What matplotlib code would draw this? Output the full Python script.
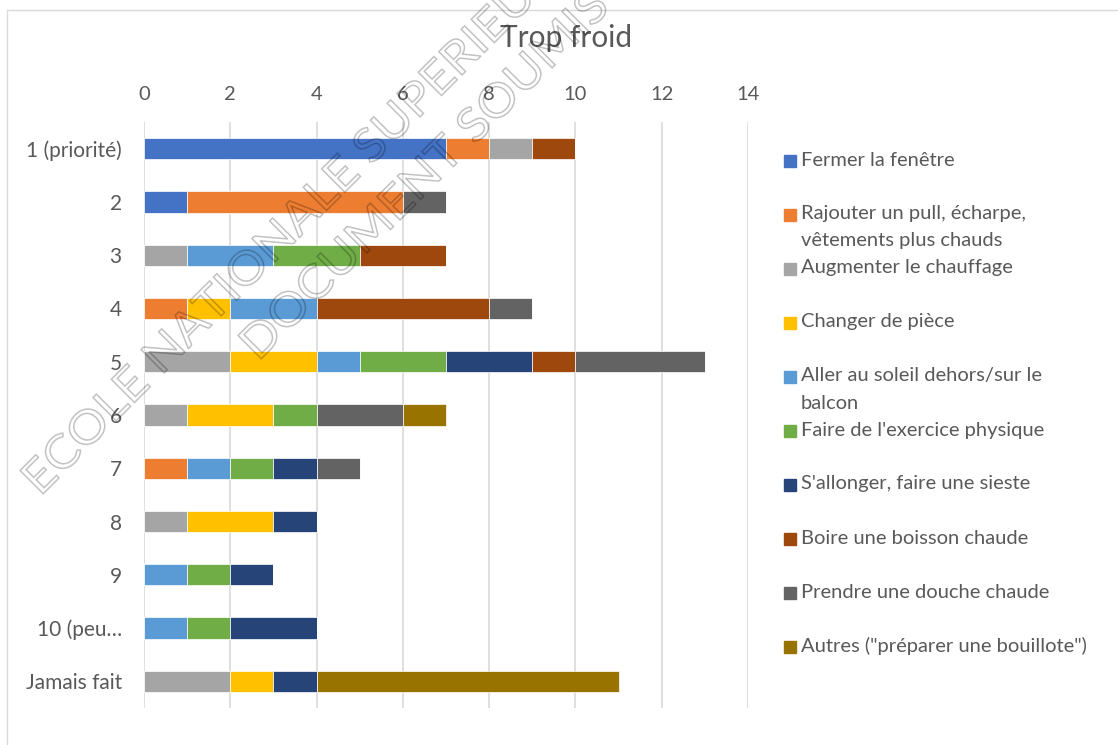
#! /usr/bin/env python
#
# Stacked horizontal bars: what people do first when they feel too cold,
# by priority rank (1 = first thing tried, "Jamais fait" = never done).
#

"""Trop froid: actions by priority rank"""

# Installed packages
from matplotlib import pyplot as plt
from matplotlib.font_manager import FontProperties
from matplotlib.patches import PathPatch, Rectangle
from matplotlib.textpath import TextPath
from matplotlib.transforms import Affine2D
import numpy as np

# Figure size in pixels (saved at 100 dpi)
FIG_W, FIG_H = 1118, 745
FONT = "Lato"
TEXT_COLOR = "#595959"

# Rank labels, top to bottom
categories = ["1 (priorité)", "2", "3", "4", "5", "6", "7", "8", "9",
              "10 (peu…", "Jamais fait"]

# Counts per rank for each action
fermer = [7, 1, 0, 0, 0, 0, 0, 0, 0, 0, 0]
pull = [1, 5, 0, 1, 0, 0, 1, 0, 0, 0, 0]
chauffage = [1, 0, 1, 0, 2, 1, 0, 1, 0, 0, 2]
piece = [0, 0, 0, 1, 2, 2, 0, 2, 0, 0, 1]
soleil = [0, 0, 2, 2, 1, 0, 1, 0, 1, 1, 0]
exercice = [0, 0, 2, 0, 2, 1, 1, 0, 1, 1, 0]
sieste = [0, 0, 0, 0, 2, 0, 1, 1, 1, 2, 1]
boisson = [1, 0, 2, 4, 1, 0, 0, 0, 0, 0, 0]
douche = [0, 1, 0, 1, 3, 2, 1, 0, 0, 0, 0]
autres = [0, 0, 0, 0, 0, 1, 0, 0, 0, 0, 7]

series_labels = [
    "Fermer la fenêtre",
    "Rajouter un pull, écharpe,\nvêtements plus chauds",
    "Augmenter le chauffage",
    "Changer de pièce",
    "Aller au soleil dehors/sur le\nbalcon",
    "Faire de l'exercice physique",
    "S'allonger, faire une sieste",
    "Boire une boisson chaude",
    "Prendre une douche chaude",
    "Autres (\"préparer une bouillote\")",
]
series_colors = ["#4472C4", "#ED7D31", "#A5A5A5", "#FFC000", "#5B9BD5",
                 "#70AD47", "#264478", "#9E480E", "#636363", "#997300"]

x_ticks = [0, 2, 4, 6, 8, 10, 12, 14]
title = "Trop froid"
watermark_lines = ["ECOLE NATIONALE SUPERIEURE", "DOCUMENT SOUMIS A"]


def fx(px):
    """pixel column -> figure fraction"""
    return px / FIG_W


def fy(py):
    """pixel row (from top) -> figure fraction"""
    return 1 - py / FIG_H


def main():
    """Entry point"""
    plt.rcParams['font.family'] = [FONT, 'DejaVu Sans']
    fig = plt.figure(figsize=(FIG_W / 100, FIG_H / 100), dpi=100)

    # Chart area frame (runs off the right and bottom edges)
    fig.add_artist(Rectangle((fx(7), -0.2), 1.2, fy(10) + 0.2,
                             transform=fig.transFigure, fill=False,
                             edgecolor="#D9D9D9", lw=1.0))

    ax = fig.add_axes([fx(144), 1 - 708 / FIG_H, 604 / FIG_W, 586 / FIG_H])
    all_series = [fermer, pull, chauffage, piece, soleil, exercice,
                  sieste, boisson, douche, autres]
    ypos = np.arange(len(categories))
    left = np.zeros(len(categories))
    for values, color in zip(all_series, series_colors):
        vals = np.array(values, dtype=float)
        ax.barh(ypos, vals, left=left, height=0.4, color=color,
                edgecolor="white", linewidth=0.5, zorder=3)
        left += vals

    ax.set_xlim(0, 14)
    ax.set_ylim(len(categories) - 0.5, -0.5)
    ax.set_xticks(x_ticks)
    ax.set_yticks(ypos)
    ax.set_yticklabels(categories)
    ax.xaxis.tick_top()
    ax.tick_params(axis="x", length=0, pad=14, labelsize=14.5,
                   labelcolor=TEXT_COLOR)
    ax.tick_params(axis="y", length=0, pad=16, labelsize=15,
                   labelcolor=TEXT_COLOR)
    ax.grid(axis="x", color="#D9D9D9", lw=1.2, zorder=0)
    for spine in ax.spines.values():
        spine.set_visible(False)

    fig.text(fx(566), fy(38), title, ha="center", va="center",
             fontsize=21.5, color=TEXT_COLOR)

    # Legend drawn by hand: one slot every 54 px, wrapped names go downward
    for i, (label, color) in enumerate(zip(series_labels, series_colors)):
        y0 = 160 + 54 * i
        fig.add_artist(Rectangle((fx(784), fy(y0 + 7)), 12 / FIG_W, 12 / FIG_H,
                                 transform=fig.transFigure, color=color))
        for j, line in enumerate(label.split("\n")):
            fig.text(fx(801), fy(y0 + 27 * j), line, ha="left", va="center",
                     fontsize=14.5, color=TEXT_COLOR)

    # Diagonal outlined watermark over the chart (letters a bit widened)
    prop = FontProperties(family=FONT)
    for text, (px, py) in zip(watermark_lines, [(40, 497), (258, 362)]):
        path = TextPath((0, 0), text, size=33, prop=prop)
        trans = (Affine2D().scale(1.1 / 72.0, 1 / 72.0).rotate_deg(45)
                 .translate(px / 100, (FIG_H - py) / 100) + fig.dpi_scale_trans)
        fig.add_artist(PathPatch(path, facecolor="none",
                                 edgecolor=(0, 0, 0, 0.24), lw=1.1,
                                 transform=trans, zorder=10))

    fig.savefig("out.png", dpi=100)

#-------------------------------------------------------------------------------

if __name__ == "__main__":
    main()
